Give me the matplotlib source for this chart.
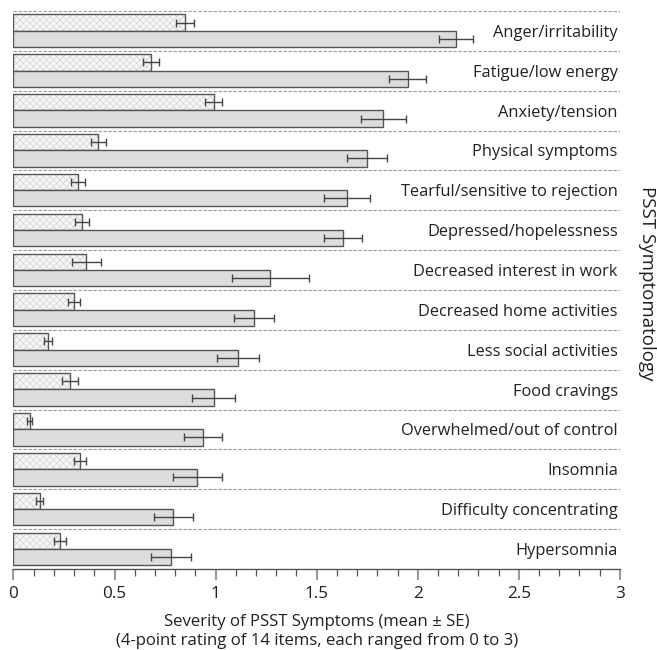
import numpy as np
import matplotlib.pyplot as plt
from matplotlib.ticker import MultipleLocator

plt.rcParams['font.family'] = ['Open Sans', 'DejaVu Sans']
plt.rcParams['hatch.linewidth'] = 0.5

# sintomas (de arriba hacia abajo)
sintomas = ["Anger/irritability", "Fatigue/low energy", "Anxiety/tension",
            "Physical symptoms", "Tearful/sensitive to rejection",
            "Depressed/hopelessness", "Decreased interest in work",
            "Decreased home activities", "Less social activities",
            "Food cravings", "Overwhelmed/out of control", "Insomnia",
            "Difficulty concentrating", "Hypersomnia"]

# grupo claro (trama)
media_a = [0.85, 0.68, 0.99, 0.42, 0.32, 0.34, 0.36, 0.30, 0.17, 0.28, 0.08, 0.33, 0.13, 0.23]
se_a = [0.045, 0.04, 0.044, 0.037, 0.035, 0.035, 0.072, 0.03, 0.02, 0.04, 0.014, 0.031, 0.018, 0.028]

# grupo gris
media_b = [2.19, 1.95, 1.83, 1.75, 1.65, 1.63, 1.27, 1.19, 1.11, 0.99, 0.94, 0.91, 0.79, 0.78]
se_b = [0.085, 0.09, 0.11, 0.10, 0.115, 0.095, 0.19, 0.10, 0.105, 0.105, 0.094, 0.12, 0.096, 0.10]

n = len(sintomas)
pos = np.arange(n)

fig = plt.figure(figsize=(6.57, 6.5), dpi=100)
ax = fig.add_axes([0.0205, 0.1246, 0.923, 0.8585])

err_kw = dict(ecolor='#444444', elinewidth=1.0, capsize=3, capthick=1.0)
# trama clara primero, luego el contorno
ax.barh(pos + 0.29, media_a, height=0.41, color='#f7f7f7',
        edgecolor='#d2d2d2', linewidth=0, hatch='xxxxx')
ax.barh(pos + 0.29, media_a, height=0.41, xerr=se_a, fill=False,
        edgecolor='#555555', linewidth=1.0, error_kw=err_kw)
ax.barh(pos + 0.70, media_b, height=0.41, xerr=se_b, color='#dcdddc',
        edgecolor='#555555', linewidth=1.0, error_kw=err_kw)

# separadores y etiquetas
for i, nombre in enumerate(sintomas):
    ax.axhline(i, color='#999999', linestyle=(0, (3, 1.5)), linewidth=0.8)
    ax.text(2.99, i + 0.55, nombre, ha='right', va='center', fontsize=11.8, color='#231f20')

ax.set_xlim(0, 3)
ax.set_ylim(n, 0)
ax.set_yticks([])
for s in ['top', 'right', 'left']:
    ax.spines[s].set_visible(False)
ax.spines['bottom'].set_color('#555555')
ax.spines['bottom'].set_linewidth(1.0)

ax.xaxis.set_major_locator(MultipleLocator(0.5))
ax.xaxis.set_minor_locator(MultipleLocator(0.1))
ax.set_xticks([0, 0.5, 1, 1.5, 2, 2.5, 3])
ax.set_xticklabels(['0', '0.5', '1', '1.5', '2', '2.5', '3'])
ax.tick_params(axis='x', which='major', length=8, width=1.5, color='#999999',
               labelsize=12.3, pad=4, labelcolor='#231f20')
ax.tick_params(axis='x', which='minor', length=5, width=0.9, color='#555555')

ax.set_xlabel("Severity of PSST Symptoms (mean \u00b1 SE)\n(4-point rating of 14 items, each ranged from 0 to 3)",
              fontsize=12.1, labelpad=9, color='#231f20', linespacing=1.2)
fig.text(0.985, 0.565, "PSST Symptomatology", rotation=270, ha='center', va='center',
         fontsize=13.5, color='#231f20')

plt.savefig("out.png", dpi=100)
